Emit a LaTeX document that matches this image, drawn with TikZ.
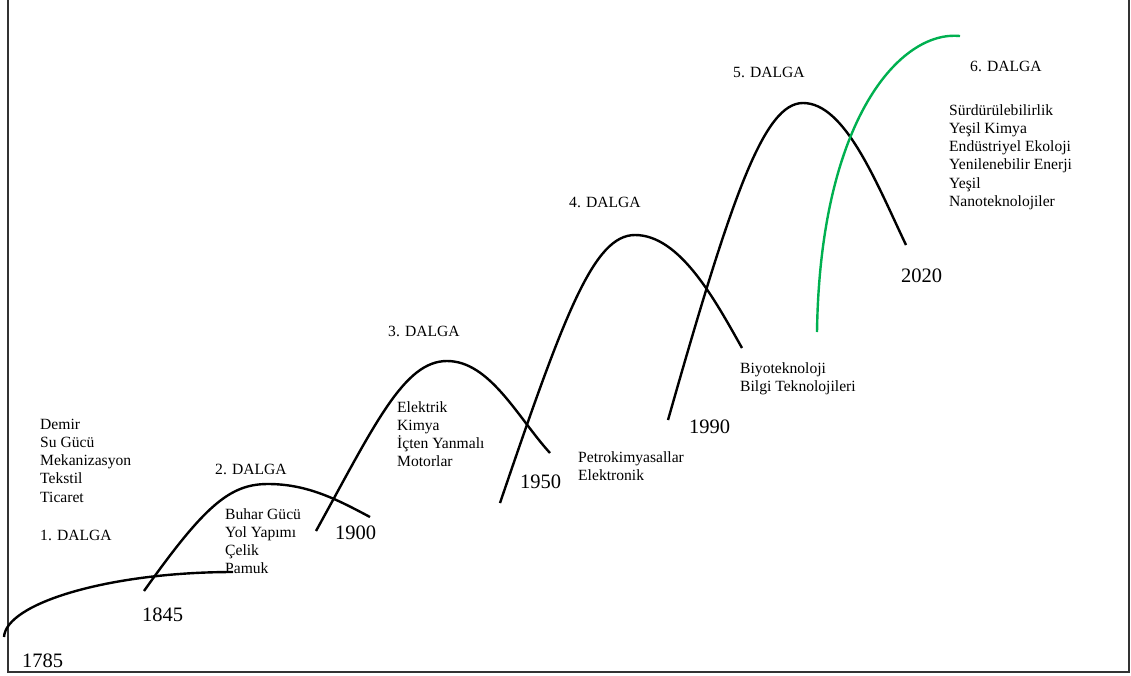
\documentclass[tikz,border=0pt]{standalone}
\usepackage{fontspec}
\setmainfont{Liberation Serif}
\definecolor{wavegreen}{RGB}{0,176,80}
\begin{document}
\begin{tikzpicture}[x=1pt,y=-1pt,
  wave/.style={line width=2.4pt,black},
  greenwave/.style={line width=2.4pt,wavegreen},
  lbl/.style={anchor=base west,inner sep=0pt,font=\fontsize{15.6}{18.3}\selectfont},
  yr/.style={anchor=base west,inner sep=0pt,font=\fontsize{20.5}{24}\selectfont}]
\useasboundingbox (0,0) rectangle (1131,675);
\draw[line width=1.3pt,black!80] (8,-4) rectangle (1129,672);
% waves
\draw[wave] (4,637) .. controls (6,603) and (110,572) .. (233,572);
\draw[wave] (144,591) .. controls (205,505) and (230,484) .. (268,484) .. controls (308,484) and (338,500) .. (370,517);
\draw[wave] (316,531) .. controls (375,424) and (404,361) .. (447,361) .. controls (490,361) and (518,418) .. (550,453);
\draw[wave] (500,503) .. controls (565,312) and (594,235) .. (635,235) .. controls (680,235) and (715,300) .. (742,348);
\draw[wave] (668,420) .. controls (732,195) and (764,103) .. (803,103) .. controls (845,103) and (876,182) .. (906,245);
\draw[greenwave] (817,332) .. controls (820,120) and (900,30) .. (960,36);
% years
\node[yr] (y1785) at (22,667) {1785};
\node[yr] (y1845) at (142,621) {1845};
\node[yr] (y1900) at (335,539) {1900};
\node[yr] (y1950) at (520,488) {1950};
\node[yr] (y1990) at (689,433) {1990};
\node[yr] (y2020) at (901,282) {2020};
% wave titles
\node[lbl] (d1) at (40,540) {1. DALGA};
\node[lbl] (d2) at (215,474) {2. DALGA};
\node[lbl] (d3) at (388,336) {3. DALGA};
\node[lbl] (d4) at (569,207) {4. DALGA};
\node[lbl] (d5) at (733,77) {5. DALGA};
\node[lbl] (d6) at (970,71) {6. DALGA};
% lists
\node[lbl] (t1) at (40,429) {\begin{tabular}[t]{@{}l@{}}Demir\\Su Gücü\\Mekanizasyon\\Tekstil\\Ticaret\end{tabular}};
\node[lbl] (t2) at (225,519) {\begin{tabular}[t]{@{}l@{}}Buhar Gücü\\Yol Yapımı\\Çelik\\Pamuk\end{tabular}};
\node[lbl] (t3) at (397,412) {\begin{tabular}[t]{@{}l@{}}Elektrik\\Kimya\\İçten Yanmalı\\Motorlar\end{tabular}};
\node[lbl] (t4) at (578,462) {\begin{tabular}[t]{@{}l@{}}Petrokimyasallar\\Elektronik\end{tabular}};
\node[lbl] (t5) at (740,373) {\begin{tabular}[t]{@{}l@{}}Biyoteknoloji\\Bilgi Teknolojileri\end{tabular}};
\node[lbl] (t6) at (949,115) {\begin{tabular}[t]{@{}l@{}}Sürdürülebilirlik\\Yeşil Kimya\\Endüstriyel Ekoloji\\Yenilenebilir Enerji\\Yeşil\\Nanoteknolojiler\end{tabular}};
\end{tikzpicture}
\end{document}
